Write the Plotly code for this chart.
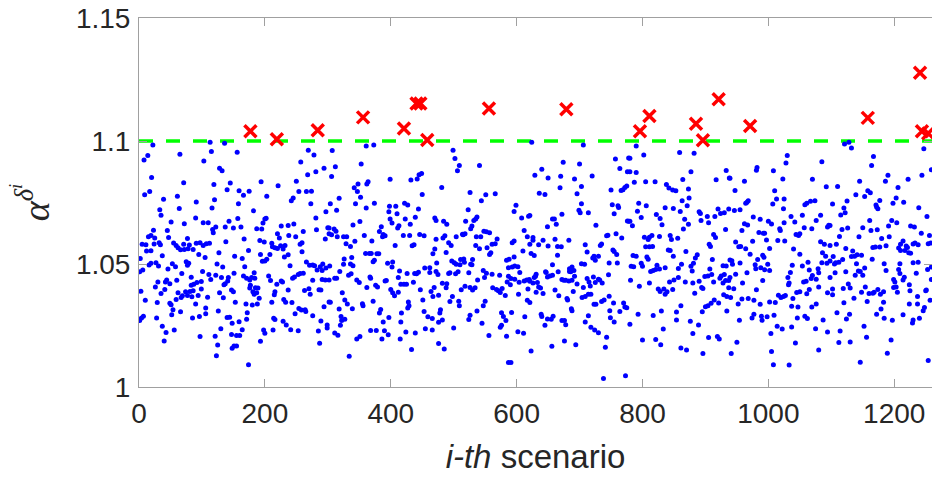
import plotly.graph_objects as go

# ---- data: scenario index and alpha value, by x-range segment ----
idx_a = [22,113,136,14,8,65,115,103,128,132,20,71,119,17,9,140,39,61,91,120,33,64,116,35,90,51,72,102,110,23,
122,117,118,137,19,15,25,45,47,32,34,55,77,5,11,24,59,62,71,80,91,97,102,107,112,138,72,78,86,66,
12,19,37,95,105,127,2,27,31,16,19,53,58,46,75,79,77,124,133,1,6,68,101,111,114,122,131,142,44,42,
30,49,26,60,83,87,92,99,83,141,137,135,3,35,41,62,74,81,86,69,77,84,94,99,128,109,10,29,49,51,
59,67,90,134,54,52,66,106,106,96,85,126,140,1,1,4,7,28,37,43,40,56,130,97,121,125,123]
val_a = [1.0984,1.0995,1.0991,1.0941,1.0923,1.0946,1.0957,1.0919,1.0889,1.0879,
1.0852,1.0830,1.0823,1.0795,1.0782,1.0802,1.0763,1.0775,1.0752,1.0761,
1.0721,1.0726,1.0728,1.0698,1.0687,1.0671,1.0664,1.0668,1.0668,1.0637,
1.0650,1.0640,1.0627,1.0650,1.0616,1.0611,1.0606,1.0636,1.0608,1.0586,
1.0578,1.0585,1.0604,1.0580,1.0578,1.0581,1.0575,1.0566,1.0580,1.0577,
1.0584,1.0586,1.0575,1.0582,1.0584,1.0590,1.0559,1.0562,1.0559,1.0558,
1.0553,1.0554,1.0534,1.0539,1.0526,1.0546,1.0522,1.0505,1.0492,1.0496,
1.0503,1.0501,1.0489,1.0480,1.0509,1.0503,1.0495,1.0500,1.0488,1.0468,
1.0476,1.0461,1.0470,1.0457,1.0437,1.0454,1.0445,1.0445,1.0435,1.0427,
1.0427,1.0420,1.0407,1.0434,1.0446,1.0418,1.0425,1.0429,1.0414,1.0431,
1.0420,1.0416,1.0389,1.0380,1.0396,1.0383,1.0387,1.0388,1.0391,1.0371,
1.0372,1.0367,1.0372,1.0398,1.0383,1.0365,1.0353,1.0344,1.0340,1.0334,
1.0356,1.0364,1.0337,1.0363,1.0314,1.0294,1.0306,1.0321,1.0298,1.0287,
1.0280,1.0309,1.0283,1.0270,1.0273,1.0280,1.0288,1.0280,1.0247,1.0222,
1.0187,1.0232,1.0237,1.0205,1.0206,1.0171,1.0127]

idx_b = [156,269,278,257,268,281,294,145,194,221,250,254,266,274,159,175,166,203,158,245,
242,273,182,297,200,202,197,143,157,281,150,162,187,195,226,237,246,261,282,300,
167,220,223,238,249,256,259,296,199,192,211,174,212,216,220,225,229,232,259,208,
203,200,196,193,152,164,237,231,240,266,271,276,279,283,288,292,297,291,168,151,
166,171,179,183,176,184,206,209,247,253,256,261,244,226,228,276,291,296,177,176,
185,189,237,219,263,270,272,286,289,147,150,153,181,183,187,191,216,215,230,233,
211,170,180,188,243,258,264,265,302,294,248,254,276,144,159,172,171,148,214,216,
229,234,241,253,289,299,299,147,155,164,160,198,200,213,285,151,155,148,193,287,174]
val_b = [1.0954,1.0962,1.0943,1.0915,1.0863,1.0875,1.0889,1.0829,1.0834,1.0818,
1.0836,1.0795,1.0795,1.0796,1.0798,1.0796,1.0779,1.0775,1.0745,1.0768,
1.0757,1.0745,1.0716,1.0712,1.0683,1.0686,1.0667,1.0674,1.0685,1.0687,
1.0646,1.0650,1.0643,1.0642,1.0654,1.0656,1.0663,1.0632,1.0639,1.0647,
1.0602,1.0623,1.0606,1.0616,1.0611,1.0580,1.0586,1.0602,1.0589,1.0596,
1.0584,1.0555,1.0570,1.0566,1.0563,1.0574,1.0561,1.0575,1.0550,1.0539,
1.0519,1.0512,1.0511,1.0539,1.0531,1.0522,1.0538,1.0528,1.0493,1.0508,
1.0495,1.0496,1.0493,1.0476,1.0489,1.0500,1.0484,1.0474,1.0489,1.0462,
1.0451,1.0442,1.0445,1.0464,1.0435,1.0442,1.0451,1.0433,1.0447,1.0457,
1.0461,1.0462,1.0442,1.0431,1.0427,1.0434,1.0437,1.0435,1.0414,1.0402,
1.0403,1.0402,1.0394,1.0418,1.0392,1.0399,1.0377,1.0395,1.0394,1.0394,
1.0387,1.0345,1.0387,1.0377,1.0383,1.0361,1.0387,1.0375,1.0356,1.0345,
1.0345,1.0337,1.0333,1.0337,1.0344,1.0313,1.0314,1.0307,1.0346,1.0326,
1.0298,1.0319,1.0290,1.0284,1.0265,1.0302,1.0275,1.0259,1.0279,1.0274,
1.0267,1.0252,1.0233,1.0229,1.0268,1.0252,1.0240,1.0213,1.0209,1.0233,
1.0209,1.0232,1.0218,1.0232,1.0228,1.0167,1.0167,1.0158,1.0186,1.0178,1.0090]

idx_c = [307,361,373,353,312,306,399,432,442,445,449,450,364,362,348,342,347,352,318,304,
314,344,361,374,398,397,408,410,422,427,444,439,423,399,402,413,411,431,340,351,
302,310,313,302,306,315,325,330,358,370,385,382,388,387,391,420,430,446,453,329,
336,343,407,434,437,360,366,369,378,381,372,374,338,326,325,340,336,395,403,402,
414,426,438,444,454,303,302,311,314,319,333,337,346,350,367,368,362,376,379,391,
393,412,416,421,425,436,441,447,400,403,406,412,323,327,331,304,318,339,355,356,
372,382,384,388,397,417,416,428,429,427,451,453,459,321,322,327,320,311,316,346,
351,368,377,390,396,386,415,424,439,455,433,334]
val_c = [1.0961,1.0980,1.0984,1.0906,1.0895,1.0856,1.0845,1.0841,1.0846,1.0863,
1.0868,1.0783,1.0834,1.0825,1.0825,1.0810,1.0795,1.0771,1.0767,1.0745,
1.0718,1.0745,1.0728,1.0747,1.0735,1.0712,1.0735,1.0704,1.0747,1.0740,
1.0724,1.0690,1.0683,1.0683,1.0667,1.0655,1.0646,1.0662,1.0659,1.0673,
1.0646,1.0642,1.0633,1.0623,1.0619,1.0611,1.0611,1.0611,1.0616,1.0593,
1.0651,1.0632,1.0620,1.0611,1.0615,1.0616,1.0616,1.0620,1.0615,1.0582,
1.0571,1.0592,1.0575,1.0574,1.0578,1.0543,1.0543,1.0543,1.0542,1.0542,
1.0509,1.0515,1.0526,1.0520,1.0499,1.0493,1.0500,1.0503,1.0508,1.0488,
1.0472,1.0461,1.0461,1.0466,1.0484,1.0492,1.0435,1.0442,1.0442,1.0470,
1.0454,1.0460,1.0435,1.0425,1.0447,1.0442,1.0404,1.0414,1.0407,1.0431,
1.0433,1.0445,1.0418,1.0418,1.0418,1.0426,1.0460,1.0395,1.0396,1.0383,
1.0371,1.0385,1.0383,1.0354,1.0337,1.0345,1.0317,1.0318,1.0338,1.0330,
1.0349,1.0301,1.0315,1.0264,1.0283,1.0301,1.0264,1.0346,1.0330,1.0321,
1.0354,1.0307,1.0286,1.0287,1.0270,1.0275,1.0251,1.0220,1.0210,1.0195,
1.0205,1.0230,1.0230,1.0229,1.0212,1.0195,1.0195,1.0224,1.0220,1.0237,
1.0152,1.0125]

idx_d = [499,502,509,506,541,481,526,551,566,544,599,596,523,537,535,532,529,527,519,489,
484,472,470,608,619,515,514,518,504,486,483,472,496,492,548,552,557,543,536,569,
566,559,557,535,553,561,593,596,612,617,610,470,467,488,497,501,511,504,516,517,
510,507,503,492,530,529,541,547,552,561,573,587,593,596,588,584,587,591,597,602,
605,612,616,620,604,462,473,472,462,475,494,524,527,482,489,488,469,464,476,467,
512,518,526,530,534,538,549,562,568,571,574,577,582,585,590,597,603,618,617,494,
498,508,509,550,547,537,526,524,576,579,583,574,576,592,613,602,611,466,479,478,
476,482,466,500,545,556,584,476,485,587,591]
val_d = [1.0962,1.0929,1.0900,1.0879,1.0900,1.0811,1.0791,1.0782,1.0786,1.0757,
1.0739,1.0713,1.0721,1.0691,1.0683,1.0677,1.0654,1.0643,1.0674,1.0662,
1.0674,1.0677,1.0687,1.0687,1.0694,1.0619,1.0621,1.0623,1.0611,1.0615,
1.0606,1.0601,1.0575,1.0586,1.0633,1.0631,1.0627,1.0611,1.0611,1.0602,
1.0582,1.0546,1.0539,1.0575,1.0566,1.0580,1.0586,1.0593,1.0636,1.0611,
1.0553,1.0561,1.0542,1.0547,1.0512,1.0505,1.0518,1.0499,1.0520,1.0507,
1.0497,1.0468,1.0460,1.0461,1.0518,1.0497,1.0562,1.0474,1.0462,1.0458,
1.0454,1.0485,1.0488,1.0528,1.0519,1.0515,1.0450,1.0441,1.0492,1.0489,
1.0465,1.0431,1.0435,1.0437,1.0426,1.0485,1.0504,1.0470,1.0465,1.0457,
1.0464,1.0464,1.0499,1.0422,1.0420,1.0403,1.0404,1.0388,1.0373,1.0368,
1.0395,1.0410,1.0404,1.0394,1.0403,1.0435,1.0445,1.0403,1.0396,1.0391,
1.0384,1.0400,1.0372,1.0427,1.0416,1.0438,1.0377,1.0398,1.0353,1.0348,
1.0368,1.0349,1.0330,1.0349,1.0330,1.0309,1.0292,1.0274,1.0302,1.0287,
1.0270,1.0243,1.0251,1.0303,1.0286,1.0225,1.0218,1.0278,1.0314,1.0301,
1.0263,1.0272,1.0232,1.0240,1.0259,1.0209,1.0206,1.0177,1.0154,1.0100,1.0100]

idx_e = [624,706,674,700,640,629,650,670,692,720,703,669,696,636,645,757,778,764,776,766,
769,772,775,750,752,761,762,755,778,776,703,699,701,714,672,657,660,663,649,726,
626,621,626,635,642,650,661,665,671,683,665,623,628,709,712,721,725,723,730,735,
733,743,745,758,767,753,755,759,747,760,631,630,628,621,626,633,635,631,638,642,
649,646,647,657,653,657,666,672,675,678,684,687,688,684,686,683,688,691,692,690,
696,703,708,706,704,709,714,718,712,715,717,722,725,730,732,736,746,621,661,667,
680,681,687,688,723,726,735,739,747,754,748,749,755,764,770,772,775,639,640,649,
655,658,645,672,676,678,709,714,718,724,730,743,741,656,676,694,623,738,773,621]
val_e = [1.0995,1.0984,1.0914,1.0907,1.0885,1.0861,1.0850,1.0857,1.0846,1.0858,
1.0815,1.0810,1.0786,1.0788,1.0783,1.0927,1.0931,1.0888,1.0875,1.0799,
1.0802,1.0811,1.0817,1.0801,1.0741,1.0737,1.0730,1.0704,1.0674,1.0675,
1.0745,1.0718,1.0708,1.0708,1.0702,1.0683,1.0683,1.0662,1.0651,1.0658,
1.0608,1.0580,1.0597,1.0578,1.0597,1.0573,1.0601,1.0571,1.0570,1.0597,
1.0536,1.0543,1.0535,1.0578,1.0549,1.0524,1.0515,1.0532,1.0531,1.0581,
1.0575,1.0615,1.0617,1.0623,1.0606,1.0557,1.0551,1.0539,1.0504,1.0504,
1.0458,1.0450,1.0445,1.0430,1.0423,1.0425,1.0407,1.0385,1.0402,1.0380,
1.0447,1.0469,1.0465,1.0497,1.0451,1.0454,1.0469,1.0437,1.0434,1.0434,
1.0470,1.0478,1.0488,1.0481,1.0468,1.0431,1.0434,1.0474,1.0450,1.0388,
1.0419,1.0501,1.0499,1.0404,1.0364,1.0368,1.0377,1.0377,1.0441,1.0427,
1.0411,1.0447,1.0425,1.0438,1.0435,1.0423,1.0456,1.0344,1.0394,1.0371,
1.0360,1.0354,1.0318,1.0310,1.0336,1.0336,1.0348,1.0354,1.0369,1.0341,
1.0310,1.0282,1.0264,1.0307,1.0341,1.0325,1.0322,1.0296,1.0287,1.0276,
1.0275,1.0288,1.0251,1.0270,1.0270,1.0253,1.0264,1.0290,1.0243,1.0232,
1.0221,1.0202,1.0162,1.0166,1.0187,1.0172,1.0146,1.0035,1.0046,1.0697]

idx_f = [790,802,859,882,780,877,780,790,787,805,820,864,838,842,848,853,873,874,863,871,
933,938,917,794,806,792,798,836,849,860,867,873,865,822,828,831,890,892,893,903,
905,915,920,924,930,937,780,784,803,811,815,809,805,811,816,827,844,846,856,906,
908,913,916,932,785,790,782,786,798,800,807,809,841,844,849,869,887,884,881,877,
879,862,857,813,817,821,823,827,836,911,907,928,933,781,795,811,825,828,834,836,
839,848,843,850,857,868,880,890,896,894,899,904,910,913,923,925,930,928,932,937,
937,929,934,883,861,854,895,900,904,909,914,921,934,793,817,830,854,876,889,880,
780,833,905,919,922,800,821,829,861,870,896]
val_f = [1.0980,1.0943,1.0953,1.0950,1.0930,1.0875,1.0875,1.0872,1.0832,1.0834,
1.0834,1.0844,1.0823,1.0809,1.0801,1.0798,1.0805,1.0768,1.0757,1.0737,
1.0880,1.0850,1.0842,1.0747,1.0737,1.0714,1.0689,1.0729,1.0726,1.0713,
1.0682,1.0662,1.0642,1.0701,1.0685,1.0660,1.0712,1.0705,1.0677,1.0693,
1.0668,1.0693,1.0724,1.0705,1.0708,1.0724,1.0674,1.0655,1.0609,1.0609,
1.0616,1.0600,1.0570,1.0570,1.0571,1.0612,1.0616,1.0600,1.0605,1.0580,
1.0571,1.0620,1.0608,1.0640,1.0535,1.0531,1.0491,1.0489,1.0503,1.0491,
1.0528,1.0519,1.0557,1.0555,1.0531,1.0551,1.0538,1.0524,1.0503,1.0491,
1.0472,1.0499,1.0482,1.0470,1.0474,1.0478,1.0495,1.0480,1.0485,1.0518,
1.0480,1.0493,1.0492,1.0434,1.0410,1.0423,1.0398,1.0388,1.0398,1.0377,
1.0387,1.0396,1.0427,1.0435,1.0445,1.0427,1.0423,1.0430,1.0400,1.0404,
1.0449,1.0451,1.0457,1.0427,1.0442,1.0451,1.0457,1.0423,1.0433,1.0433,
1.0403,1.0375,1.0368,1.0381,1.0330,1.0305,1.0306,1.0326,1.0330,1.0340,
1.0354,1.0341,1.0309,1.0296,1.0291,1.0309,1.0272,1.0267,1.0252,1.0217,
1.0255,1.0236,1.0201,1.0205,1.0195,1.0191,1.0193,1.0172,1.0159,1.0150,1.0136]

idx_g = [1030,1028,982,981,1008,1023,1085,1070,962,947,1010,1092,939,1013,1025,1007,1024,966,968,964,
955,946,1067,1061,1074,1058,1076,1083,1054,976,987,1000,1005,962,967,1025,1036,1042,1018,1019,
958,985,992,994,1057,1069,1094,1096,948,953,956,964,971,975,997,1044,1048,1050,1040,1050,
1015,1026,1002,991,993,1083,1089,1086,1091,939,943,942,955,939,948,966,979,983,980,988,
994,999,1002,1038,1035,1031,1033,1032,1054,1063,1065,1070,1068,1056,1060,1076,1079,1080,1085,1093,
945,959,991,981,940,952,958,968,977,987,1002,1011,1016,1020,1024,1027,1050,1045,1061,1065,
1080,1094,1076,1069,1039,1037,1047,1058,1062,1087,954,974,977,989,990,998,1009,1004,1014,1022,
1037,1046,1075,1094,950,941,1005,1043,1080,1008,1033]
val_g = [1.0941,1.0911,1.0892,1.0881,1.0879,1.0846,1.0916,1.0845,1.0836,1.0799,
1.0798,1.0814,1.0849,1.0764,1.0764,1.0744,1.0725,1.0751,1.0757,1.0747,
1.0721,1.0717,1.0755,1.0747,1.0757,1.0741,1.0677,1.0698,1.0698,1.0691,
1.0682,1.0674,1.0663,1.0664,1.0659,1.0668,1.0693,1.0671,1.0643,1.0636,
1.0636,1.0628,1.0625,1.0625,1.0647,1.0643,1.0650,1.0658,1.0589,1.0570,
1.0571,1.0562,1.0540,1.0592,1.0598,1.0620,1.0616,1.0623,1.0561,1.0540,
1.0596,1.0593,1.0563,1.0536,1.0527,1.0590,1.0580,1.0546,1.0532,1.0516,
1.0499,1.0513,1.0504,1.0445,1.0458,1.0464,1.0497,1.0518,1.0481,1.0485,
1.0477,1.0499,1.0474,1.0495,1.0465,1.0445,1.0423,1.0416,1.0492,1.0507,
1.0476,1.0453,1.0441,1.0427,1.0430,1.0438,1.0481,1.0464,1.0505,1.0503,
1.0399,1.0423,1.0433,1.0395,1.0364,1.0337,1.0358,1.0360,1.0353,1.0336,
1.0346,1.0344,1.0373,1.0364,1.0368,1.0372,1.0387,1.0384,1.0379,1.0396,
1.0406,1.0383,1.0337,1.0325,1.0360,1.0328,1.0325,1.0288,1.0278,1.0272,
1.0271,1.0280,1.0296,1.0288,1.0271,1.0286,1.0292,1.0217,1.0247,1.0236,
1.0244,1.0280,1.0237,1.0224,1.0182,1.0136,1.0144,1.0179,1.0150,1.0090,1.0089]

idx_h = [1121,1128,1132,1167,1164,1247,1259,1145,1186,1190,1222,1244,1110,1139,1153,1158,1162,1206,1203,1198,
1215,1102,1125,1120,1122,1115,1171,1177,1174,1172,1239,1252,1098,1117,1126,1113,1144,1150,1161,1163,
1173,1180,1192,1191,1196,1204,1226,1232,1243,1256,1254,1238,1233,1230,1214,1210,1219,1108,1098,1123,
1134,1137,1132,1141,1148,1166,1170,1177,1187,1207,1210,1217,1223,1226,1221,1258,1098,1103,1105,1107,
1112,1118,1106,1140,1143,1138,1146,1150,1153,1123,1165,1184,1187,1209,1207,1209,1216,1214,1230,1238,
1235,1253,1259,1102,1098,1127,1130,1119,1120,1102,1109,1124,1129,1136,1148,1154,1160,1166,1157,1174,
1178,1183,1183,1179,1168,1199,1201,1199,1203,1205,1224,1225,1237,1237,1251,1259,1250,1248,1246,1257,
1224,1214,1230,1229,1240,1197,1184,1172,1114,1112,1130,1152,1156,1195,1189,1146,1254]
val_h = [1.0988,1.0995,1.0972,1.0937,1.0900,1.0968,1.0883,1.0836,1.0836,1.0861,
1.0845,1.0861,1.0815,1.0782,1.0774,1.0798,1.0790,1.0811,1.0768,1.0747,
1.0751,1.0744,1.0756,1.0728,1.0708,1.0699,1.0740,1.0758,1.0725,1.0732,
1.0729,1.0693,1.0656,1.0640,1.0646,1.0612,1.0611,1.0647,1.0677,1.0636,
1.0639,1.0604,1.0611,1.0654,1.0677,1.0668,1.0654,1.0650,1.0625,1.0616,
1.0582,1.0578,1.0585,1.0581,1.0593,1.0580,1.0573,1.0580,1.0575,1.0563,
1.0553,1.0532,1.0530,1.0538,1.0536,1.0567,1.0569,1.0569,1.0574,1.0565,
1.0555,1.0555,1.0546,1.0544,1.0567,1.0585,1.0512,1.0530,1.0500,1.0505,
1.0507,1.0518,1.0464,1.0501,1.0472,1.0454,1.0470,1.0454,1.0484,1.0469,
1.0519,1.0501,1.0474,1.0501,1.0478,1.0461,1.0446,1.0435,1.0505,1.0507,
1.0462,1.0478,1.0488,1.0398,1.0445,1.0419,1.0402,1.0400,1.0342,1.0375,
1.0302,1.0276,1.0296,1.0361,1.0385,1.0406,1.0380,1.0381,1.0348,1.0396,
1.0377,1.0387,1.0345,1.0317,1.0385,1.0437,1.0427,1.0404,1.0406,1.0385,
1.0416,1.0391,1.0368,1.0337,1.0394,1.0437,1.0391,1.0323,1.0310,1.0353,
1.0337,1.0294,1.0272,1.0260,1.0279,1.0271,1.0279,1.0296,1.0228,1.0181,
1.0183,1.0247,1.0202,1.0191,1.0137,1.0101,1.0108]

# scenarios exceeding the threshold
exceed_idx = [177,219,284,356,421,441,447,458,556,679,796,811,885,896,921,971,1158,1241,1244,1254]
exceed_val = [1.1040,1.1007,1.1044,1.1096,1.1051,1.1152,1.1152,1.1004,1.1132,1.1129,
              1.1040,1.1102,1.1070,1.1003,1.1170,1.1061,1.1094,1.1277,1.1040,1.1031]

threshold = 1.1
x_ticks = [0, 200, 400, 600, 800, 1000, 1200]
y_ticks = [1.0, 1.05, 1.1, 1.15]
y_ticktext = ["1", "1.05", "1.1", "1.15"]
x_range = [0, 1260]
y_range = [1.0, 1.15]

xs, ys = [], []
for ix, iv in [(idx_a, val_a), (idx_b, val_b), (idx_c, val_c), (idx_d, val_d),
               (idx_e, val_e), (idx_f, val_f), (idx_g, val_g), (idx_h, val_h)]:
    n = min(len(ix), len(iv))
    xs += ix[:n]
    ys += iv[:n]

fig = go.Figure()
fig.add_trace(go.Scatter(x=x_range, y=[threshold, threshold], mode="lines",
                         line=dict(color="#00ff00", width=3.5, dash="14px,13px"),
                         hoverinfo="skip", showlegend=False))
fig.add_trace(go.Scatter(x=xs, y=ys, mode="markers",
                         marker=dict(color="#0000ff", size=5, line=dict(width=0)),
                         showlegend=False))
fig.add_trace(go.Scatter(x=exceed_idx, y=exceed_val, mode="markers",
                         marker=dict(symbol="x-thin", size=12, color="#ff0000",
                                     line=dict(color="#ff0000", width=3.5)),
                         showlegend=False))

axis_common = dict(showline=True, linecolor="#a0a0a0", linewidth=1, mirror="ticks",
                   ticks="inside", ticklen=8, tickwidth=1, tickcolor="#a0a0a0",
                   showgrid=False, zeroline=False,
                   tickfont=dict(family="Liberation Sans, Arial, sans-serif", size=28, color="#262626"))

fig.update_layout(
    width=932, height=479,
    margin=dict(l=139, r=0, t=18, b=92),
    paper_bgcolor="white", plot_bgcolor="white",
    xaxis=dict(range=x_range, tickvals=x_ticks, ticklabelstandoff=1,
               title=dict(text="<i>i-th</i> scenario", standoff=17,
                          font=dict(family="Liberation Sans, Arial, sans-serif", size=33, color="#262626")),
               **axis_common),
    yaxis=dict(range=y_range, tickvals=y_ticks, ticktext=y_ticktext, ticklabelstandoff=2,
               title=dict(text="<i>α</i><sup><i>δ</i><sup><i>i</i></sup></sup>", standoff=14,
                          font=dict(family="Liberation Serif, Times New Roman, serif", size=38, color="#262626")),
               **axis_common),
)

fig.write_html("out.html", config={"displayModeBar": False},
               post_script="document.body.style.margin='0';document.body.style.overflow='hidden';")
